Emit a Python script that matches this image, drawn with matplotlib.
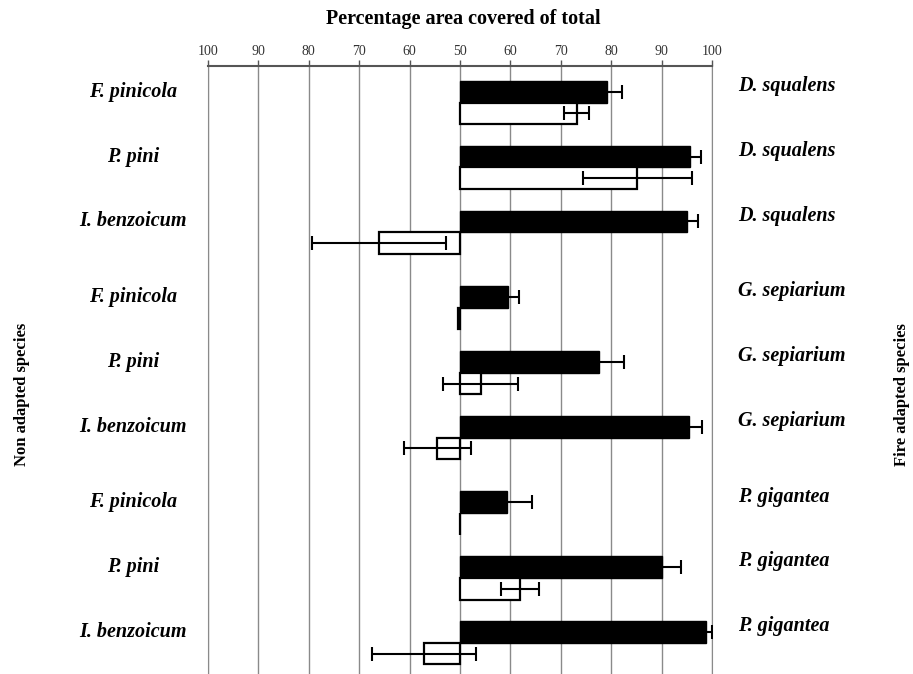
import numpy as np
import matplotlib
matplotlib.use('Agg')
import matplotlib.pyplot as plt

# pairings: non adapted (left label) vs fire adapted (right label)
non_adapted = ['F. pinicola', 'P. pini', 'I. benzoicum'] * 3
fire_adapted = ['D. squalens'] * 3 + ['G. sepiarium'] * 3 + ['P. gigantea'] * 3

# percentage covered by the fire adapted species (black = one treatment, white = other)
black_pct = [79.2, 95.6, 95.1, 59.6, 77.6, 95.4, 59.3, 90.0, 98.8]
black_err = [2.9, 2.3, 2.1, 2.2, 4.9, 2.6, 4.9, 3.9, 1.2]
white_pct = [73.2, 85.2, 33.9, 49.6, 54.1, 45.5, 50.1, 61.9, 42.8]
white_err = [2.5, 10.8, 13.3, 0.0, 7.5, 6.6, 0.0, 3.75, 10.3]

tick_vals = [-50, -40, -30, -20, -10, 0, 10, 20, 30, 40, 50]
tick_labels = [str(abs(t) + 50) for t in tick_vals]

plt.rcParams['font.family'] = ['Liberation Serif', 'DejaVu Serif']

fig = plt.figure(figsize=(9.13, 6.74), dpi=100)
ax = fig.add_axes([0.2278, 0.0, 0.552, 0.9021])

n = len(black_pct)
h = 0.337
gap = 0.157
yb = np.array([i + (i // 3) * gap for i in range(n)])
yw = yb + h

bx = np.array(black_pct) - 50
wx = np.array(white_pct) - 50

ax.barh(yb, bx, height=h, left=0, color='black', edgecolor='black', linewidth=1.0, zorder=3)
ax.barh(yw, wx, height=h, left=0, color='white', edgecolor='black', linewidth=1.6, zorder=3)

ax.errorbar(bx, yb, xerr=black_err, fmt='none', ecolor='black', elinewidth=1.5,
            capsize=5, capthick=1.5, zorder=4)
we = np.array(white_err)
mask = we > 0
ax.errorbar(wx[mask], yw[mask], xerr=we[mask], fmt='none', ecolor='black', elinewidth=1.5,
            capsize=5, capthick=1.5, zorder=4)

ax.set_xlim(-50, 50)
ax.set_ylim(yb[-1] + 0.652, -0.394)

# vertical gridlines
for t in tick_vals:
    ax.axvline(t, color='#8a8a8a', linewidth=1.0, zorder=1)

ax.xaxis.tick_top()
ax.set_xticks(tick_vals)
ax.set_xticklabels(tick_labels, fontsize=10, color='#333333')
ax.tick_params(axis='x', direction='out', length=4, width=1, color='#555555', pad=2)
ax.set_yticks([])

ax.spines['bottom'].set_visible(False)
ax.spines['top'].set_color('#555555')
ax.spines['top'].set_linewidth(1.5)
ax.spines['left'].set_color('#8a8a8a')
ax.spines['right'].set_color('#8a8a8a')

# species labels
for y, lbl in zip(yb, non_adapted):
    ax.text(-0.148, y, lbl, transform=ax.get_yaxis_transform(), ha='center', va='center',
            fontsize=14.5, fontweight='bold', fontstyle='italic')
for y, lbl in zip(yb, fire_adapted):
    ax.text(1.052, y - 0.08, lbl, transform=ax.get_yaxis_transform(), ha='left', va='center',
            fontsize=14.5, fontweight='bold', fontstyle='italic')

fig.text(0.508, 0.972, 'Percentage area covered of total', ha='center', va='center',
         fontsize=14.5, fontweight='bold')
fig.text(0.024, 0.415, 'Non adapted species', rotation=90, ha='center', va='center',
         fontsize=12, fontweight='bold')
fig.text(0.988, 0.415, 'Fire adapted species', rotation=90, ha='center', va='center',
         fontsize=12, fontweight='bold')

fig.savefig('out.png', dpi=100)
